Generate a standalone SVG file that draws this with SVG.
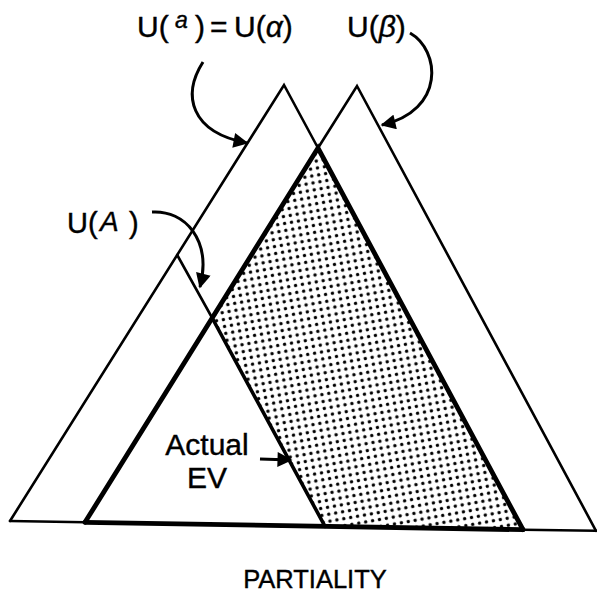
<svg xmlns="http://www.w3.org/2000/svg" width="597" height="597" viewBox="0 0 597 597">
<style>
.thin{fill:none;stroke:#000;stroke-width:2.6;stroke-linejoin:miter;stroke-linecap:round}
.thick{fill:none;stroke:#000;stroke-width:4.8;stroke-linecap:round}
.med{fill:none;stroke:#000;stroke-width:3.6;stroke-linecap:round}
.lbl{font-family:"Liberation Sans",Arial,sans-serif;fill:#000;stroke:#000;stroke-width:0.4}
.arr{fill:none;stroke:#000;stroke-width:3;marker-end:url(#ah)}
</style>
<defs>
<pattern id="dots" width="7" height="7" patternUnits="userSpaceOnUse" patternTransform="rotate(-10)">
<circle cx="3.5" cy="3.5" r="1.7" fill="#000"/>
</pattern>
<marker id="ah" viewBox="0 0 10 10" refX="9" refY="5" markerUnits="userSpaceOnUse" markerWidth="17" markerHeight="15" orient="auto">
<path d="M0,0 L10,5 L0,10 z" fill="#000"/>
</marker>
</defs>
<rect width="597" height="597" fill="#fff"/>
<g id="shaded-region">
<polygon points="318,148 212.2,318 325,526.4 523,529.7" fill="url(#dots)"/>
</g>
<g id="triangle-alpha">
<polyline class="thin" points="10,521 284,85 318,148"/>
</g>
<g id="triangle-beta">
<polyline class="thin" points="318,148 357,86 596,530.8"/>
</g>
<g id="triangle-A">
<line class="thin" x1="177.2" y1="255" x2="212.2" y2="318"/>
<line class="med" x1="212.2" y1="318" x2="325" y2="526.4"/>
</g>
<g id="intersection">
<polyline class="thick" points="85,522.3 318,148 523,529.7"/>
</g>
<g id="base">
<line class="thin" x1="10" y1="521" x2="85" y2="522.3"/>
<line class="thick" x1="85" y1="522.3" x2="523" y2="529.7"/>
<line class="thin" x1="523" y1="529.7" x2="596" y2="530.8"/>
</g>
<g id="connectors">
<path class="arr" d="M203,62 C182,95 190,132 247,143"/>
<path class="arr" d="M410,33 C440,50 446,110 382,125"/>
<path class="arr" d="M152,212 C185,210 212,240 200,287"/>
<path class="arr" d="M260,459 L291,460"/>
</g>
<g id="label-U-a">
<text class="lbl" font-size="30"><tspan x="137" y="37">U(</tspan><tspan x="175" y="28" font-size="23" font-style="italic">a</tspan><tspan x="195" y="37">)</tspan><tspan x="210" y="37">=</tspan><tspan x="234" y="37">U(</tspan><tspan font-style="italic">α</tspan><tspan>)</tspan></text>
</g>
<g id="label-U-beta">
<text class="lbl" font-size="30" x="347" y="37">U(<tspan font-style="italic">β</tspan>)</text>
</g>
<g id="label-U-A">
<text class="lbl" font-size="29"><tspan x="67" y="233">U(</tspan><tspan x="100" y="231" font-size="28" font-style="italic">A</tspan><tspan x="129" y="233">)</tspan></text>
</g>
<g id="label-actual-ev">
<text class="lbl" font-size="30" text-anchor="middle" x="207" y="455">Actual</text>
<text class="lbl" font-size="30" text-anchor="middle" x="207" y="488">EV</text>
</g>
<g id="label-partiality">
<text class="lbl" font-size="25.5" text-anchor="middle" x="315" y="588">PARTIALITY</text>
</g>
</svg>
